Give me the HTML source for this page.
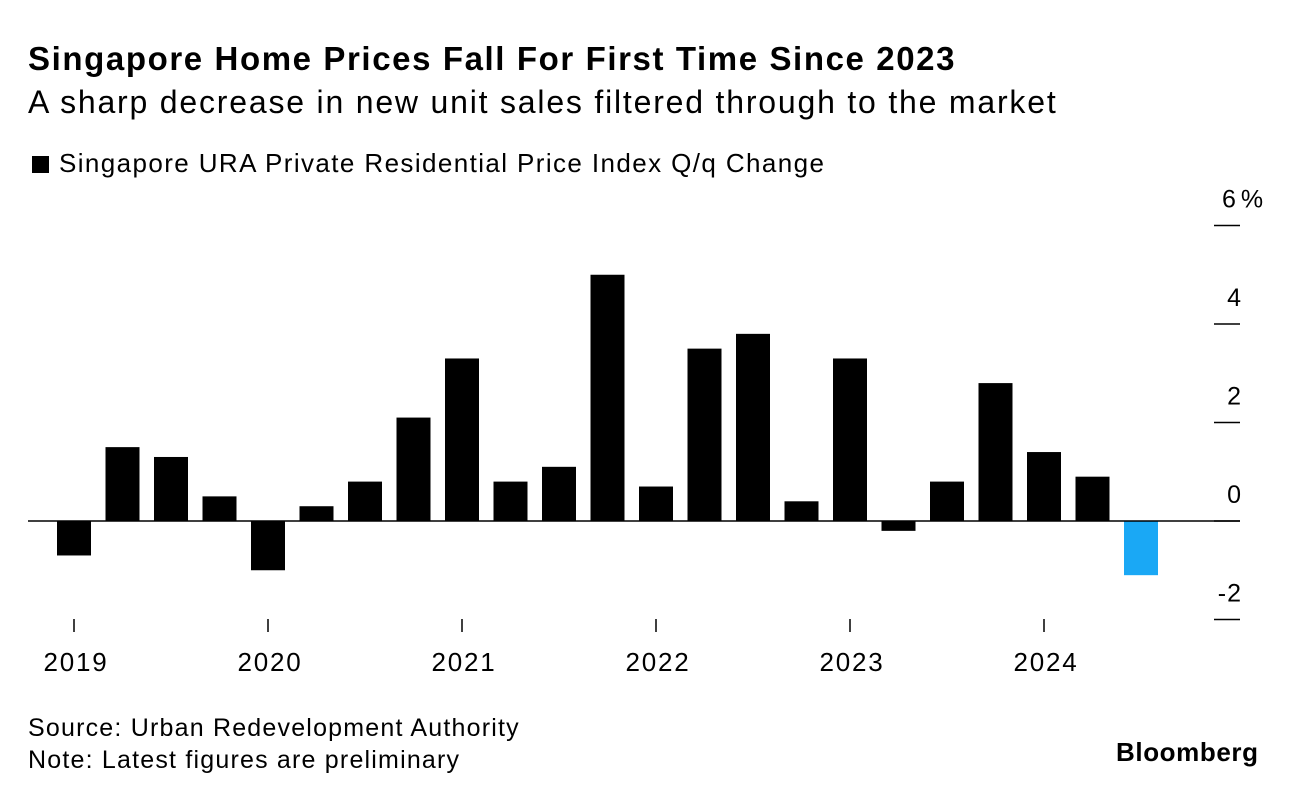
<!DOCTYPE html>
<html><head><meta charset="utf-8">
<style>
body{margin:0;background:#fff;font-family:"Liberation Sans",sans-serif;color:#000;}
#wrap{position:relative;width:1296px;height:798px;overflow:hidden;}
.t{position:absolute;white-space:nowrap;}
</style></head>
<body>
<div id="wrap">
<div class="t" style="left:28px;top:40px;font-size:33px;font-weight:bold;letter-spacing:1.6px;">Singapore Home Prices Fall For First Time Since 2023</div>
<div class="t" style="left:28px;top:84px;font-size:32px;letter-spacing:1.8px;">A sharp decrease in new unit sales filtered through to the market</div>
<div class="t" style="left:32px;top:148px;font-size:26px;letter-spacing:1.4px;"><span style="display:inline-block;width:17px;height:17px;background:#000;margin-right:10px;vertical-align:-1px;"></span>Singapore URA Private Residential Price Index Q/q Change</div>
<svg id="chart" width="1296" height="798" style="position:absolute;left:0;top:0;"></svg>
<div class="t" style="left:28px;top:712px;font-size:25px;line-height:32px;letter-spacing:1.2px;">Source: Urban Redevelopment Authority<br>Note: Latest figures are preliminary</div>
<div class="t" style="left:1116px;top:737px;font-size:26px;font-weight:bold;letter-spacing:0.6px;">Bloomberg</div>
</div>
<script>
const values=[-0.7,1.5,1.3,0.5,-1.0,0.3,0.8,2.1,3.3,0.8,1.1,5.0,0.7,3.5,3.8,0.4,3.3,-0.2,0.8,2.8,1.4,0.9,-1.1];
const yTicks=[6,4,2,0,-2];
const yTickLabels=["6%","4","2","0","-2"];
const years=["2019","2020","2021","2022","2023","2024"];
const NS="http://www.w3.org/2000/svg";
const svg=document.getElementById('chart');
const y=v=>521-v*49.25;
const x=i=>74+i*48.5;
function mk(t,a){const e=document.createElementNS(NS,t);for(const k in a)e.setAttribute(k,a[k]);svg.appendChild(e);return e;}
values.forEach((v,i)=>{
 const r=mk('rect',{x:x(i)-17,y:Math.min(y(v),y(0)),width:34,height:Math.abs(y(v)-y(0)),fill:i===values.length-1?'#1aa8f5':'#000'});
 
 
});
const zl=mk('line',{x1:28,x2:1240,y1:y(0),y2:y(0),stroke:'#000','stroke-width':1.5});


yTicks.forEach((v,i)=>{
 const l=mk('line',{x1:1214,x2:1240,y1:y(v),y2:y(v),stroke:'#000','stroke-width':1.5});
 
 
 const t=mk('text',{x:i===0?1222:1242,y:y(v)-18,'font-size':25,'letter-spacing':i===0?5:1,'text-anchor':i===0?'start':'end','font-family':'Liberation Sans'});
 t.textContent=yTickLabels[i];
 
 
});
years.forEach((yr,i)=>{
 const cx=x(i*4);
 const l=mk('line',{x1:cx,x2:cx,y1:619,y2:632,stroke:'#000','stroke-width':1.5});
 
 
 const t=mk('text',{x:cx+2,y:671,'font-size':26,'letter-spacing':1.8,'text-anchor':'middle','font-family':'Liberation Sans'});
 t.textContent=yr;
 
 
});
</script>
</body></html>
